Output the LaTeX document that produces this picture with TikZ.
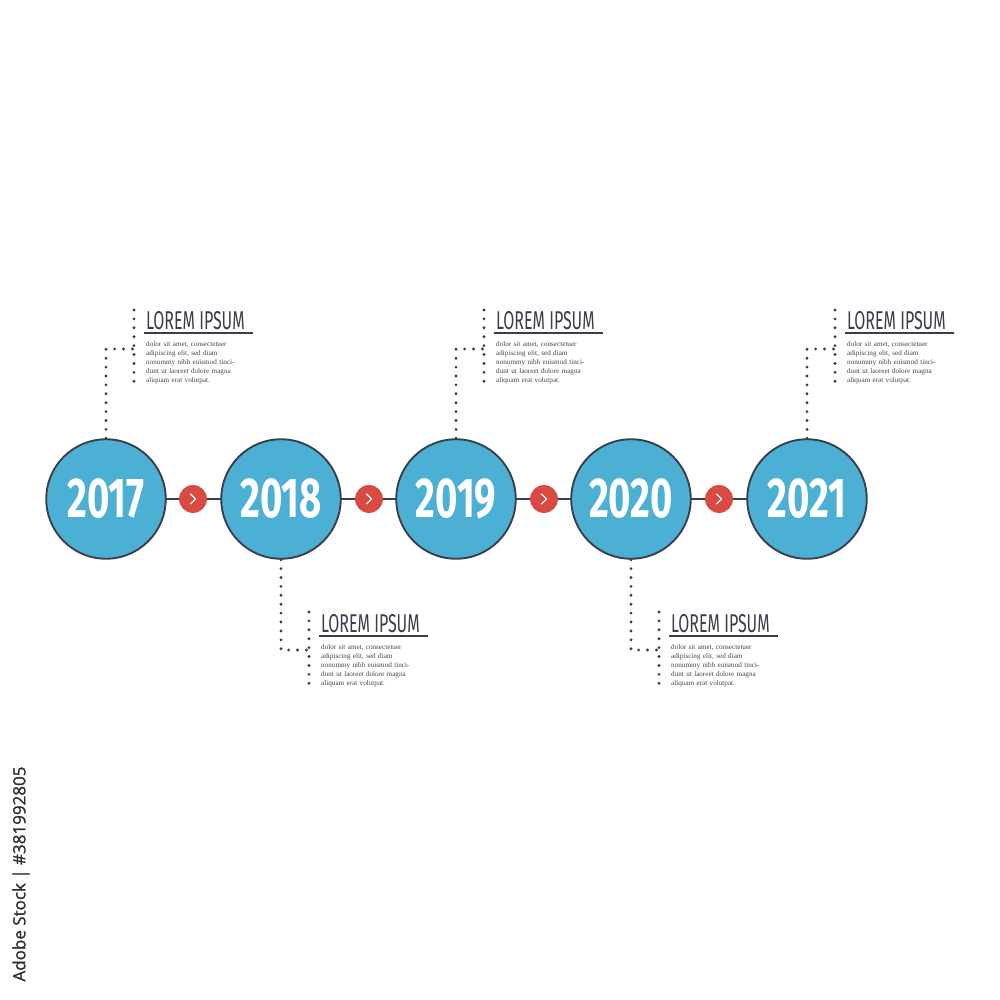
\documentclass[tikz,border=0pt]{standalone}
\usepackage{fontspec}
\setmainfont{Liberation Serif}
\newfontfamily\yearfont{Fira Sans}
\newfontfamily\wmfont[FakeBold=1.2]{Open Sans}
\definecolor{circblue}{HTML}{4BB0D3}
\definecolor{dotred}{HTML}{D94A43}
\definecolor{inkgray}{HTML}{3A3E4A}
\definecolor{textgray}{HTML}{444444}
\definecolor{wmgray}{HTML}{2E2E2E}
\begin{document}
\begin{tikzpicture}[x=0.03cm,y=-0.03cm,
  redcirc/.style={circle,fill=dotred,minimum size=28*0.85pt,inner sep=0pt},
  yearlabel/.style={text=white,font=\yearfont\bfseries\fontsize{48}{48}\selectfont,xscale=0.68},
  dotline/.style={draw=inkgray,line width=2.7pt,line cap=round,dash pattern=on 0pt off 7.6pt},
  joinline/.style={draw=inkgray,line width=1.6pt},
  titletext/.style={text=inkgray,font=\yearfont\fontsize{22}{22}\selectfont,xscale=0.62,inner sep=0pt},
  bodytext/.style={text=textgray,font=\fontsize{6.1}{7.7}\selectfont,align=left,inner sep=0pt,text width=100pt},
  uline/.style={draw=inkgray,line width=1.2pt}
]
\useasboundingbox (0,0) rectangle (1000,1000);
% connectors first
\foreach \i/\x in {1/106,2/281,3/456,4/631,5/807}{
  \coordinate (p\i) at (\x,499);
}
\draw[joinline] (p1) -- (p5);
% circles
\foreach \i/\x/\yr in {1/106/2017,2/281/2018,3/456/2019,4/631/2020,5/807/2021}{
  \node[circle,draw=inkgray,line width=1.6pt,fill=circblue,minimum size=120*0.85pt,inner sep=0pt] (c\i) at (p\i) {};
  \node[yearlabel] (y\i) at (p\i) {\yr};
}
% red arrows
\foreach \i/\x in {1/193,2/369,3/544,4/719}{
  \node[redcirc] (a\i) at (\x,499) {};
  \draw[white,line width=1pt,line cap=round,line join=round] ([shift={(-2.5,-5)}]a\i.center) -- ([shift={(2.5,0)}]a\i.center) -- ([shift={(-2.5,5)}]a\i.center);
}
% top callouts
\foreach \i/\x in {1/106,3/456,5/807}{
  \coordinate (tk\i) at (\x+28,349);
  \draw[dotline] (c\i.north) -- (\x,349) -- (tk\i);
  \coordinate (tv\i a) at (\x+28,310);
  \coordinate (tv\i b) at (\x+28,388);
  \draw[dotline] (tv\i a) -- (tv\i b);
  \node[titletext,anchor=base west] (tt\i) at (\x+40,329) {LOREM IPSUM};
  \coordinate (tu\i a) at (\x+38,333);
  \coordinate (tu\i b) at (\x+147,333);
  \draw[uline] (tu\i a) -- (tu\i b);
  \node[bodytext,anchor=north west] (tb\i) at (\x+40,341) {dolor sit amet, consectetuer\\adipiscing elit, sed diam\\nonummy nibh euismod tinci-\\dunt ut laoreet dolore magna\\aliquam erat volutpat.};
}
% bottom callouts
\foreach \i/\x in {2/281,4/631}{
  \coordinate (bk\i) at (\x+28,650);
  \draw[dotline] (c\i.south) -- (\x,650) -- (bk\i);
  \coordinate (bv\i a) at (\x+28,612);
  \coordinate (bv\i b) at (\x+28,690);
  \draw[dotline] (bv\i a) -- (bv\i b);
  \node[titletext,anchor=base west] (bt\i) at (\x+40,632) {LOREM IPSUM};
  \coordinate (bu\i a) at (\x+38,636);
  \coordinate (bu\i b) at (\x+147,636);
  \draw[uline] (bu\i a) -- (bu\i b);
  \node[bodytext,anchor=north west] (bb\i) at (\x+40,644) {dolor sit amet, consectetuer\\adipiscing elit, sed diam\\nonummy nibh euismod tinci-\\dunt ut laoreet dolore magna\\aliquam erat volutpat.};
}
% stock id
\node[rotate=90,text=wmgray,font=\wmfont\fontsize{14.5}{15}\selectfont,inner sep=0pt] (wm) at (21,874) {Adobe Stock | \#381992805};
\end{tikzpicture}
\end{document}
